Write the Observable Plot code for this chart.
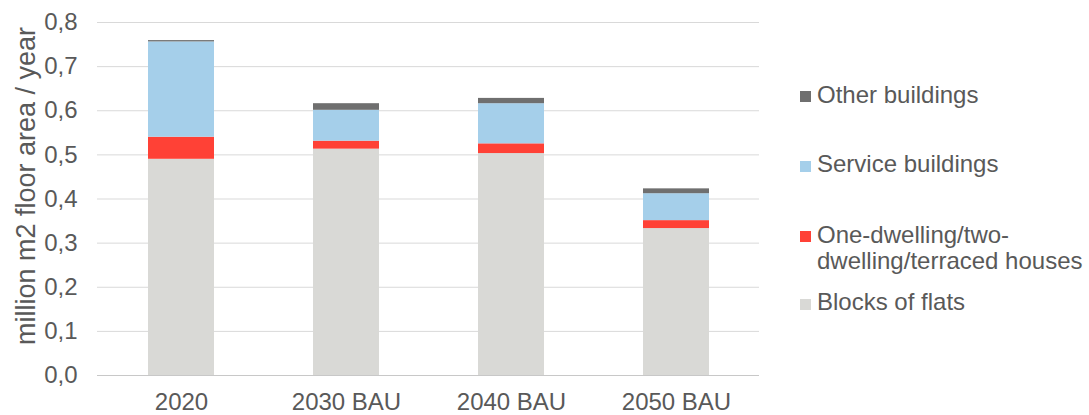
<!DOCTYPE html>
<html>
<head>
<meta charset="utf-8">
<script src="https://cdn.jsdelivr.net/npm/d3@7"></script>
<script src="https://cdn.jsdelivr.net/npm/@observablehq/plot@0.6"></script>
<style>
  html, body { margin: 0; padding: 0; background: #fff; }
  #wrap { position: relative; width: 1089px; height: 415px; font-family: "Liberation Sans", Arial, sans-serif; color: #595959; }
  #legend { position: absolute; left: 0; top: 0; }
  .item { position: absolute; left: 800px; font-size: 24px; line-height: 26px; white-space: nowrap; }
  .item .sw { position: absolute; width: 11px; height: 11px; left: 0; }
  .item .lbl { position: absolute; left: 17px; top: 0; }
</style>
</head>
<body>
<div id="wrap"><div id="legend"></div></div>
<script>
// Scenario years on the x axis
const years = ["2020", "2030 BAU", "2040 BAU", "2050 BAU"];

// Annual new floor area by building type (million m2 / year)
const blocksOfFlats = [0.490, 0.513, 0.503, 0.333];
const detachedHouses = [0.050, 0.018, 0.022, 0.018];
const serviceBuildings = [0.216, 0.070, 0.091, 0.061];
const otherBuildings = [0.003, 0.015, 0.012, 0.011];

// Series names (stack order bottom to top) and their fills
const seriesNames = ["Blocks of flats", "One-dwelling/two-dwelling/terraced houses", "Service buildings", "Other buildings"];
const seriesColors = ["#d9d9d6", "#ff4136", "#a5cfea", "#6f6f6f"];
const seriesValues = [blocksOfFlats, detachedHouses, serviceBuildings, otherBuildings];

// Y axis ticks 0,0 … 0,8
const yTicks = [0, 1, 2, 3, 4, 5, 6, 7, 8].map(i => i / 10);

const rows = years.flatMap((year, i) =>
  seriesNames.map((series, s) => ({ year, series, value: seriesValues[s][i] }))
);

const commaFormat = d => d.toFixed(1).replace(".", ",");

const chart = Plot.plot({
  width: 1089,
  height: 415,
  marginLeft: 97,
  marginRight: 330,
  marginTop: 22,
  marginBottom: 40,
  style: { fontFamily: "'Liberation Sans', Arial, sans-serif", fontSize: "24px", color: "#595959", background: "transparent", overflow: "visible" },
  x: { domain: years, paddingInner: 0.6, paddingOuter: 0.3, label: null },
  y: { domain: [0, 0.8], label: null },
  color: { domain: seriesNames, range: seriesColors },
  marks: [
    Plot.gridY(yTicks, { stroke: "#d9d9d9", strokeOpacity: 1 }),
    Plot.axisY(yTicks, { tickSize: 0, tickPadding: 20, tickFormat: commaFormat, label: null, fill: "#595959" }),
    Plot.axisX({ tickSize: 0, tickPadding: 17, label: null, fill: "#595959" }),
    Plot.barY(rows, { x: "year", y: "value", fill: "series" }),
    Plot.ruleY([0], { stroke: "#c8c8c8" }),
    Plot.text(["million m2 floor area / year"], {
      frameAnchor: "left", textAnchor: "middle", rotate: -90, dx: -71, dy: -13, lineAnchor: "middle",
      fill: "#595959", fontSize: 27
    })
  ]
});

document.getElementById("wrap").prepend(chart);

// Legend on the right, top entry is the top of the stack
const legendItems = [
  { color: seriesColors[3], top: 82, sw: 91, lines: ["Other buildings"] },
  { color: seriesColors[2], top: 151, sw: 161, lines: ["Service buildings"] },
  { color: seriesColors[1], top: 222, sw: 231, lines: ["One-dwelling/two-", "dwelling/terraced houses"] },
  { color: seriesColors[0], top: 289, sw: 299, lines: ["Blocks of flats"] }
];
const legend = document.getElementById("legend");
for (const it of legendItems) {
  const div = document.createElement("div");
  div.className = "item";
  div.style.top = it.top + "px";
  const sw = document.createElement("span");
  sw.className = "sw";
  sw.style.background = it.color;
  sw.style.top = (it.sw - it.top) + "px";
  const lbl = document.createElement("span");
  lbl.className = "lbl";
  lbl.innerHTML = it.lines.join("<br>");
  div.appendChild(sw);
  div.appendChild(lbl);
  legend.appendChild(div);
}
</script>
</body>
</html>
